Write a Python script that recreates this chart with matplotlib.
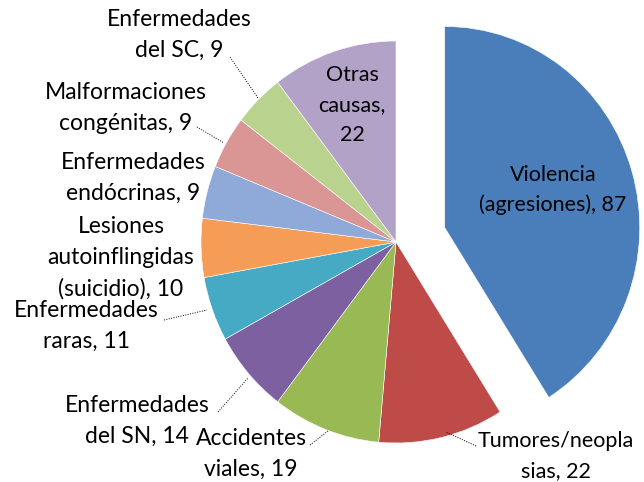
import matplotlib.pyplot as plt
import numpy as np

# Data
labels = ['Violencia\n(agresiones), 87', 'Tumores/neopla\nsias, 22', 'Accidentes\nviales, 19',
          'Enfermedades\ndel SN, 14', 'Enfermedades\nraras, 11', 'Lesiones\nautoinflingidas\n(suicidio), 10',
          'Enfermedades\nendócrinas, 9', 'Malformaciones\ncongénitas, 9', 'Enfermedades\ndel SC, 9',
          'Otras\ncausas,\n22']
values = [87, 22, 19, 14, 11, 10, 9, 9, 9, 22]
colors = ['#4A7EBB', '#BE4B48', '#98B954', '#7D60A0', '#46AAC5', '#F59D56',
          '#8FA9D9', '#D99694', '#B9D38E', '#B3A2C8']
inside = [True, False, False, False, False, False, False, False, False, True]

# Label positions (pixel coords from top-left), font sizes and leader line endpoints
label_pos = [(553, 190), (556, 456), (251, 454), (137, 421), (86, 326), (121, 258),
             (133, 178), (126, 108), (179, 35), (352, 105)]
label_size = [15.5, 15.5, 16.5, 16.5, 16.5, 16.5, 16.5, 16.5, 16.5, 15.5]
leaders = {1: ((476, 446), (446, 432)),
           2: ((310, 445), (328, 431)),
           3: ((218, 412), (248, 378)),
           4: ((164, 320), (207, 310)),
           7: ((197, 127), (224, 143)),
           8: ((230, 57), (258, 98))}

W, H = 644, 482
cx, cy = 396, 242
Rx, Ry = 195, 201  # pie is slightly squashed horizontally in the original

fig = plt.figure(figsize=(W / 100, H / 100), dpi=100)
ax = fig.add_axes([0, 0, 1, 1])

explode = [0.26] + [0] * (len(values) - 1)
ax.pie(values, colors=colors, startangle=90, counterclock=False, explode=explode,
       radius=1, wedgeprops=dict(edgecolor='white', linewidth=0.4))

# map pixels to data units
def px(x, y):
    return (x - cx) / Rx, (cy - y) / Ry

ax.set_xlim(-cx / Rx, (W - cx) / Rx)
ax.set_ylim(-(H - cy) / Ry, cy / Ry)
ax.set_aspect('auto')
ax.axis('off')

font = 'Lato'
for i, lab in enumerate(labels):
    x, y = px(*label_pos[i])
    ls = 1.6 if inside[i] else 1.58
    ax.text(x, y, lab, ha='center', va='center', fontsize=label_size[i], family=font,
            color='black', linespacing=ls)

for i, (p0, p1) in leaders.items():
    x0, y0 = px(*p0)
    x1, y1 = px(*p1)
    ax.plot([x0, x1], [y0, y1], color='black', linewidth=0.7, linestyle=(0, (1, 1.5)))

fig.savefig('out.png', dpi=100)
